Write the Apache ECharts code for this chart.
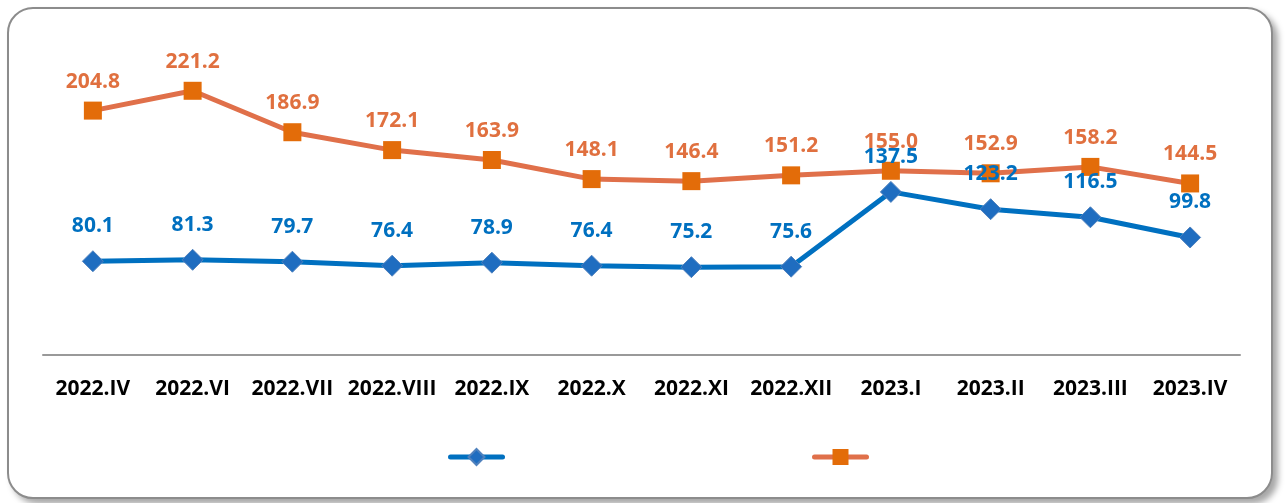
<!DOCTYPE html>
<html>
<head>
<meta charset="utf-8">
<script src="https://cdn.jsdelivr.net/npm/echarts@6/dist/echarts.min.js"></script>
<style>
html,body{margin:0;padding:0;background:#fff;}
#frame{position:absolute;left:7px;top:7px;width:1262px;height:488px;border:2px solid #8c8c8c;border-radius:26px;box-shadow:5px 5px 6px rgba(0,0,0,0.35);background:#fff;}
#chart{position:absolute;left:0;top:0;width:1285px;height:503px;}
</style>
</head>
<body>
<div id="frame"></div>
<div id="chart"></div>
<script>
const categories = ['2022.IV','2022.VI','2022.VII','2022.VIII','2022.IX','2022.X','2022.XI','2022.XII','2023.I','2023.II','2023.III','2023.IV'];
const seriesBlue = [80.1, 81.3, 79.7, 76.4, 78.9, 76.4, 75.2, 75.6, 137.5, 123.2, 116.5, 99.8];
const seriesOrange = [204.8, 221.2, 186.9, 172.1, 163.9, 148.1, 146.4, 151.2, 155.0, 152.9, 158.2, 144.5];

const FONT = '"Open Sans", Lato, sans-serif';
const chart = echarts.init(document.getElementById('chart'), null, {renderer:'canvas'});
chart.setOption({
  backgroundColor: 'transparent',
  animation: false,
  grid: {left: 43, right: 45, top: 56, bottom: 145},
  xAxis: {
    type: 'category',
    data: categories,
    boundaryGap: true,
    offset: -3,
    axisLine: {onZero: false, lineStyle: {color: '#999', width: 2}},
    axisTick: {show: false},
    axisLabel: {color: '#000', fontWeight: 'bold', fontSize: 21, fontFamily: FONT, margin: 24, interval: 0}
  },
  yAxis: {
    type: 'value', min: 0, max: 250,
    show: false, splitLine: {show: false}
  },
  legend: [
    {data: ['blue'], left: 448, top: 447, padding: 0, itemWidth: 52, itemHeight: 20, formatter: () => '', itemGap: 0,
     lineStyle: {width: 5, cap: 'round'}, textStyle: {fontSize: 1}},
    {data: ['orange'], left: 812, top: 447, padding: 0, itemWidth: 52, itemHeight: 20, formatter: () => '', itemGap: 0,
     lineStyle: {width: 5, cap: 'round'}, textStyle: {fontSize: 1}}
  ],
  series: [
    {
      name: 'blue', type: 'line', data: seriesBlue,
      symbol: 'diamond', symbolSize: 21,
      lineStyle: {color: '#0070C0', width: 5},
      itemStyle: {color: '#1F6DC0', borderColor: '#4F81BD', borderWidth: 1},
      label: {show: true, position: 'inside', offset: [0, -35], color: '#0070C0', fontWeight: 'bold', fontSize: 21, fontFamily: FONT, formatter: p => p.value.toFixed(1)},
      z: 3
    },
    {
      name: 'orange', type: 'line', data: seriesOrange,
      symbol: 'rect', symbolSize: 18,
      lineStyle: {color: '#E0704A', width: 5},
      itemStyle: {color: '#E36C09'},
      label: {show: true, position: 'inside', offset: [0, -29], color: '#E0703F', fontWeight: 'bold', fontSize: 21, fontFamily: FONT, formatter: p => p.value.toFixed(1)},
      z: 2
    }
  ]
});
</script>
</body>
</html>
